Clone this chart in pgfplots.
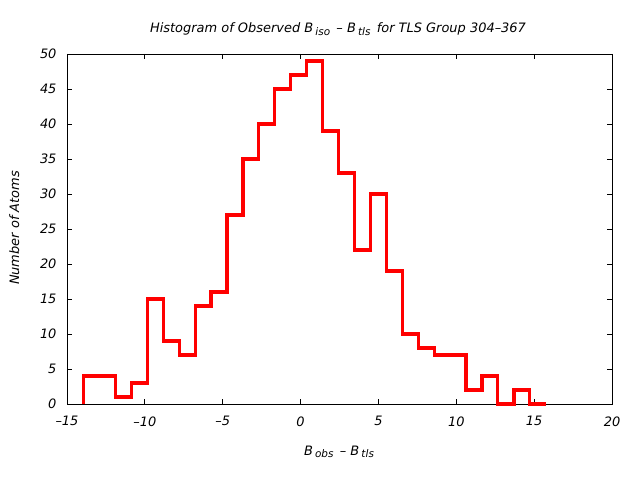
\documentclass[border=0pt]{standalone}
\usepackage{pgfplots}
\pgfplotsset{compat=1.18}
\usepackage{fontspec}
\setmainfont{DejaVu Sans}
\begin{document}
\fontsize{13}{15}\selectfont\itshape
\begin{tikzpicture}
\path[use as bounding box] (0,0) rectangle (640bp,480bp);
\begin{axis}[
  at={(67bp,76bp)}, anchor=south west,
  scale only axis, width=545bp, height=350bp,
  xmin=-15, xmax=20, ymin=0, ymax=50,
  xtick={-15,-10,...,20}, ytick={0,5,...,50},
  xticklabels={–15,–10,–5,0,5,10,15,20},
  tick align=inside, major tick length=5bp,
  axis line style={line width=0.9bp},
  every tick/.style={line width=0.9bp, black},
  tick label style={font=\fontsize{13}{15}\selectfont\itshape},
  /pgf/number format/assume math mode=true,
  xticklabel style={yshift=-8bp},
  yticklabel style={xshift=-6bp},
  clip=false,
]
\addplot[red, line width=3.2bp, const plot, line join=miter] coordinates {
(-13.93,0) (-13.93,4) (-12.91,4) (-11.89,1) (-10.86,3) (-9.84,15) (-8.82,9)
(-7.79,7) (-6.77,14) (-5.75,16) (-4.72,27) (-3.70,35) (-2.68,40) (-1.65,45)
(-0.63,47) (0.39,49) (1.42,39) (2.44,33) (3.46,22) (4.49,30) (5.51,19)
(6.53,10) (7.56,8) (8.58,7) (9.60,7) (10.63,2) (11.65,4) (12.67,0)
(13.70,2) (14.72,0) (15.74,0)
};
\end{axis}
\node[anchor=base] at (338bp,447bp) {Histogram of Observed B\,\raisebox{-0.4ex}{\fontsize{10.5}{12}\selectfont iso} \,– B\,\raisebox{-0.4ex}{\fontsize{10.5}{12}\selectfont tls} \,for TLS Group 304–367};
\node[anchor=base] at (339bp,25bp) {B\,\raisebox{-0.4ex}{\fontsize{10.5}{12}\selectfont obs} \,– B\,\raisebox{-0.4ex}{\fontsize{10.5}{12}\selectfont tls}};
\node[rotate=90, anchor=base] at (19bp,252bp) {Number of Atoms};
\end{tikzpicture}
\end{document}
